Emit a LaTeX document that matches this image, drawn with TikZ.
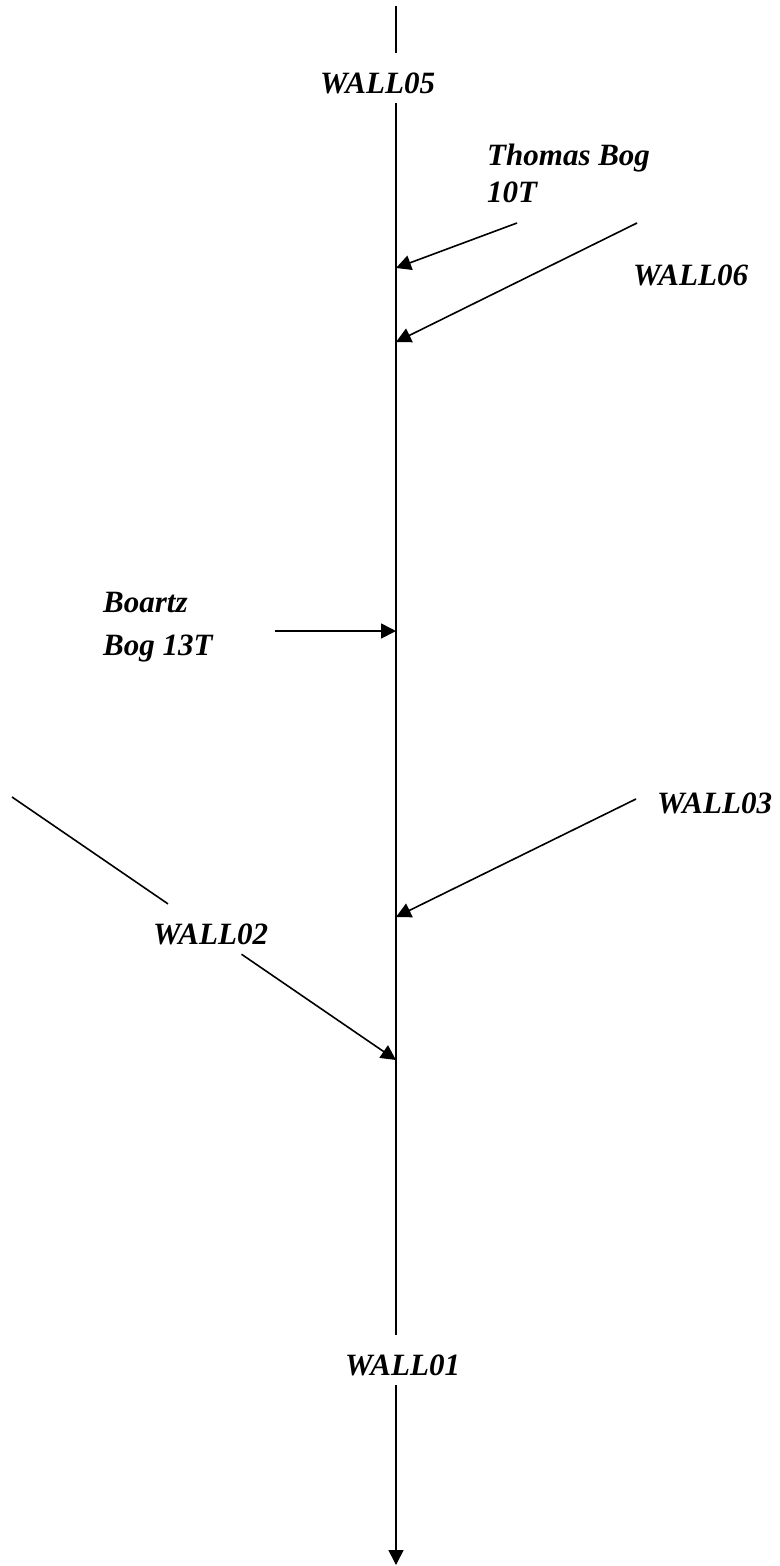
\documentclass[tikz,border=0pt]{standalone}
\usepackage{fontspec}
\setmainfont{Liberation Serif}
\usetikzlibrary{arrows.meta}
\begin{document}
\begin{tikzpicture}[x=1pt,y=-1pt,
  lbl/.style={font=\fontsize{31}{38}\selectfont\bfseries\itshape, inner sep=0pt},
  gaplbl/.style={lbl, text height=40pt, text depth=10pt, anchor=base west},
  conn/.style={line width=1.6pt},
  arr/.style={conn, -{Triangle[length=15pt,width=15pt]}}]
\useasboundingbox (0,0) rectangle (779,1566);
% main line end points
\coordinate (top) at (396,6);
\coordinate (bot) at (396,1565);
% labels
\node[gaplbl] (w05) at (320,93) {WALL05};
\node[gaplbl] (w01) at (345,1375) {WALL01};
\node[gaplbl] (w02) at (153,944) {WALL02};
\node[lbl, anchor=base west] (w06) at (633,285) {WALL06};
\node[lbl, anchor=base west] (w03) at (657,813) {WALL03};
\node[lbl, align=left, anchor=north west, font=\fontsize{31}{37}\selectfont\bfseries\itshape] (thomas) at (487,144) {Thomas Bog\\10T};
\node[lbl, align=left, anchor=north west, font=\fontsize{31}{43}\selectfont\bfseries\itshape] (boartz) at (103,592) {Boartz\\Bog 13T};
% main line
\draw[conn] (top) -- (top |- w05.north);
\draw[conn] (top |- w05.south) -- (top |- w01.north);
\draw[arr] (top |- w01.south) -- (bot);
% inflow points on the main line
\coordinate (p1) at (396,268);
\coordinate (p2) at (396,342);
\coordinate (p3) at (396,631);
\coordinate (p4) at (396,917);
\coordinate (p5) at (396,1060);
% free ends of the inflows
\coordinate (s1) at (517,223);
\coordinate (s2) at (637,223);
\coordinate (s3) at (275,631);
\coordinate (s4) at (636,799);
\coordinate (s5) at (12,797);
\draw[arr] (s1) -- (p1);
\draw[arr] (s2) -- (p2);
\draw[arr] (s3) -- (p3);
\draw[arr] (s4) -- (p4);
\draw[conn] (s5) -- (intersection of s5--p5 and w02.north west--w02.north east);
\draw[arr] (intersection of s5--p5 and w02.south west--w02.south east) -- (p5);
\end{tikzpicture}
\end{document}
